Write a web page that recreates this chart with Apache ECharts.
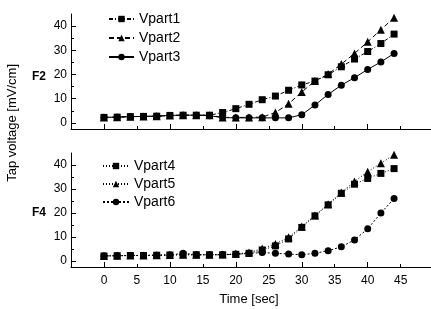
<!DOCTYPE html>
<html>
<head>
<meta charset="utf-8">
<script src="https://cdn.jsdelivr.net/npm/echarts@6/dist/echarts.min.js"></script>
<style>html,body{margin:0;padding:0;background:#fff;}#c{width:431px;height:309px;}</style>
</head>
<body>
<div id="c"></div>
<script>
const time = [0,2,4,6,8,10,12,14,16,18,20,22,24,26,28,30,32,34,36,38,40,42,44];
const vpart1 = [2.3,2.4,2.6,2.7,2.8,3.1,3.2,3.2,3.2,4.3,5.9,7.7,9.6,11.1,13.5,15.7,17.3,19.9,23.2,26.4,29.5,32.8,36.7];
const vpart2 = [2.3,2.4,2.6,2.7,2.8,3.1,3.2,3.2,3.2,2.3,2.3,2.3,2.4,4.3,7.9,12.8,17.3,20.2,24.3,28.7,33.5,38.5,43.5];
const vpart3 = [2.3,2.4,2.6,2.7,2.8,3.1,3.2,3.2,3.0,2.2,2.1,2.1,2.1,2.1,2.1,3.4,7.4,11.8,15.6,18.7,22.1,25.2,28.7];
const vpart4 = [2.1,2.2,2.3,2.3,2.4,2.5,2.6,2.6,2.6,2.6,2.8,3.2,4.6,6.3,9.2,14.0,18.8,23.4,28.2,32.0,34.4,36.5,38.5];
const vpart5 = [2.1,2.2,2.3,2.3,2.4,2.5,2.6,2.6,2.6,2.7,3.0,3.5,5.2,7.1,9.9,14.4,19.0,23.6,28.5,33.1,37.2,40.7,44.3];
const vpart6 = [2.1,2.2,2.3,2.3,2.4,2.5,3.2,2.6,2.6,2.6,2.8,3.2,3.5,3.2,2.9,2.6,3.2,4.3,5.9,8.8,13.4,20.0,26.0];
const xTickLabels = [0,5,10,15,20,25,30,35,40,45];
const xMajorTicks = [0,10,20,30,40];
const xMinorTicks = [5,15,25,35,45];
const yTickLabels = [0,10,20,30,40];
const yMinorTicks = [5,15,25,35];

const FONT = 'Liberation Sans, Arial, sans-serif';
const pair = arr => time.map((t,i)=>[t,arr[i]]);

function xAx(grid, labels, ticks, len, showLine){
  return {type:'value', gridIndex:grid, min:-5, max:49.6, position:'bottom',
    axisLine:{show:showLine, onZero:false, lineStyle:{color:'#000',width:1}},
    axisTick:{show:true, inside:true, length:len, customValues:ticks, lineStyle:{color:'#000',width:1}},
    axisLabel:{show:labels, customValues:xTickLabels, color:'#000', fontSize:12, fontFamily:FONT, margin:8},
    splitLine:{show:false}};
}
function yAx(grid, labels, ticks, len, showLine){
  return {type:'value', gridIndex:grid, min:-2.5, max:45, position:'left',
    axisLine:{show:showLine, onZero:false, lineStyle:{color:'#000',width:1}},
    axisTick:{show:true, inside:true, length:len, customValues:ticks, lineStyle:{color:'#000',width:1}},
    axisLabel:{show:labels, customValues:yTickLabels, color:'#000', fontSize:12, fontFamily:FONT, margin:4},
    splitLine:{show:false}};
}
function ser(name, data, sym, size, dash, xi, yi){
  return {name, type:'line', data:pair(data), xAxisIndex:xi, yAxisIndex:yi,
    symbol:sym, symbolSize:size, showAllSymbol:true,
    itemStyle:{color:'#000'}, lineStyle:{color:'#000', width:1, type:dash},
    animation:false, z:3};
}
const chart = echarts.init(document.getElementById('c'), null, {renderer:'canvas'});
chart.setOption({
  backgroundColor:'#fff',
  animation:false,
  grid:[
    {left:71, right:0, top:14, height:115},
    {left:71, right:0, top:153, height:114}
  ],
  xAxis:[
    xAx(0,false,xMajorTicks,5,true),
    xAx(1,true,xMajorTicks,5,true),
    xAx(0,false,xMinorTicks,3,false),
    xAx(1,false,xMinorTicks,3,false)
  ],
  yAxis:[
    yAx(0,true,yTickLabels,5,true),
    yAx(1,true,yTickLabels,5,true),
    yAx(0,false,yMinorTicks,3,false),
    yAx(1,false,yMinorTicks,3,false)
  ],
  legend:[
    {data:['Vpart1','Vpart2','Vpart3'], orient:'vertical', left:108, top:12, itemWidth:25, itemHeight:8, itemGap:5,
     textStyle:{color:'#000', fontSize:14, lineHeight:14, fontFamily:FONT}, padding:0},
    {data:['Vpart4','Vpart5','Vpart6'], orient:'vertical', left:102, top:159, itemWidth:26, itemHeight:8, itemGap:4,
     textStyle:{color:'#000', fontSize:14, lineHeight:14, fontFamily:FONT}, padding:0}
  ],
  graphic:[
    {type:'text', left:6, top:132-68, style:{text:'Tap voltage [mV/cm]', fill:'#000', font:'13px '+FONT}, rotation:Math.PI/2, originX:0, originY:0},
    {type:'text', x:39, y:77, style:{text:'F2', fill:'#000', font:'bold 12px '+FONT, align:'center', verticalAlign:'middle'}},
    {type:'text', x:39, y:213, style:{text:'F4', fill:'#000', font:'bold 12px '+FONT, align:'center', verticalAlign:'middle'}},
    {type:'text', x:249, y:299, style:{text:'Time [sec]', fill:'#000', font:'13px '+FONT, align:'center', verticalAlign:'middle'}}
  ],
  series:[
    ser('Vpart1', vpart1, 'rect', 7, [4,2,1,2], 0, 0),
    ser('Vpart2', vpart2, 'triangle', 8, [5,3], 0, 0),
    ser('Vpart3', vpart3, 'circle', 7, 'solid', 0, 0),
    ser('Vpart4', vpart4, 'rect', 7, [1,2], 1, 1),
    ser('Vpart5', vpart5, 'triangle', 8, [1,2], 1, 1),
    ser('Vpart6', vpart6, 'circle', 7, [2,2], 1, 1)
  ]
});
</script>
</body>
</html>
